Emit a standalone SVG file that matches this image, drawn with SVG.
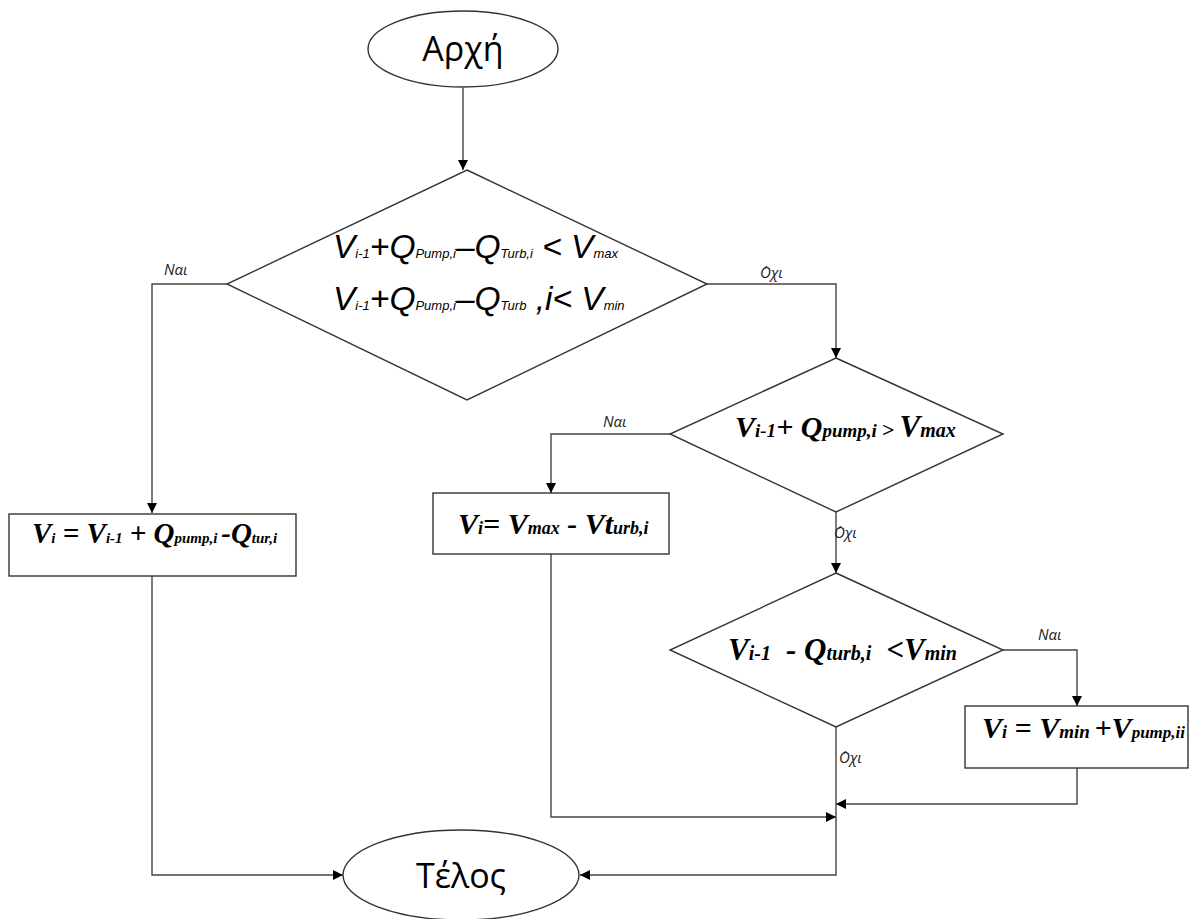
<svg xmlns="http://www.w3.org/2000/svg" width="1193" height="919" viewBox="0 0 1193 919">
<style>
.sh{fill:#fff;stroke:#333;stroke-width:1.4}
.ln{fill:none;stroke:#444;stroke-width:1.4}
.cal{font-family:"Liberation Sans","Open Sans",sans-serif;font-style:italic;fill:#000}
.tnr{font-family:"Liberation Serif","DejaVu Serif",serif;font-style:italic;font-weight:bold;fill:#000}
.lbl{font-family:"Open Sans","Liberation Sans",sans-serif;font-style:italic;font-size:15px;fill:#222}
.term{font-family:"Open Sans","Liberation Sans",sans-serif;font-size:34px;fill:#000}
</style>
<defs>
<marker id="ar" viewBox="0 0 10 10" refX="10" refY="5" markerWidth="10" markerHeight="10" markerUnits="userSpaceOnUse" orient="auto">
<path d="M0,0 L10,5 L0,10 z" fill="#000"/>
</marker>
</defs>
<g id="connectors">
<path class="ln" d="M463,88 V170" marker-end="url(#ar)"/>
<path class="ln" d="M227,284 H152 V513" marker-end="url(#ar)"/>
<path class="ln" d="M152,576 V875 H343" marker-end="url(#ar)"/>
<path class="ln" d="M707,284 H836 V358" marker-end="url(#ar)"/>
<path class="ln" d="M670,434 H551 V493" marker-end="url(#ar)"/>
<path class="ln" d="M551,554 V817 H836" marker-end="url(#ar)"/>
<path class="ln" d="M836,512 V573" marker-end="url(#ar)"/>
<path class="ln" d="M1003,650 H1077 V706" marker-end="url(#ar)"/>
<path class="ln" d="M1077,768 V804 H836" marker-end="url(#ar)"/>
<path class="ln" d="M836,727 V875 H580" marker-end="url(#ar)"/>
<text class="lbl" x="164" y="275">Ναι</text>
<text class="lbl" x="760" y="278">΄Οχι</text>
<text class="lbl" x="603" y="427">Ναι</text>
<text class="lbl" x="834" y="538">΄Οχι</text>
<text class="lbl" x="1038" y="640">Ναι</text>
<text class="lbl" x="839" y="763">΄Οχι</text>
</g>
<g id="start">
<ellipse class="sh" cx="463" cy="49" rx="95" ry="38"/>
<text class="term" x="463" y="61" text-anchor="middle">Αρχή</text>
</g>
<g id="cond1">
<polygon class="sh" points="467,170 707,284 467,400 227,284"/>
<text class="cal" x="333" y="258"><tspan font-size="33.5">V</tspan><tspan font-size="13">i-1</tspan><tspan font-size="33.5">+Q</tspan><tspan font-size="13">Pump,i</tspan><tspan font-size="33.5">–Q</tspan><tspan font-size="13">Turb,i</tspan><tspan font-size="33.5"> &lt; V</tspan><tspan font-size="13">max</tspan></text>
<text class="cal" x="333" y="310"><tspan font-size="33.5">V</tspan><tspan font-size="13">i-1</tspan><tspan font-size="33.5">+Q</tspan><tspan font-size="13">Pump,i</tspan><tspan font-size="33.5">–Q</tspan><tspan font-size="13">Turb</tspan><tspan font-size="33.5"> ,i&lt; V</tspan><tspan font-size="13">min</tspan></text>
</g>
<g id="box1">
<rect class="sh" x="9" y="514" width="287" height="62"/>
<text class="tnr" x="32" y="543" xml:space="preserve"><tspan font-size="29">V</tspan><tspan font-size="15">i</tspan><tspan font-size="29"> = V</tspan><tspan font-size="15">i-1</tspan><tspan font-size="29"> + Q</tspan><tspan font-size="15">pump,i </tspan><tspan font-size="29">-Q</tspan><tspan font-size="15">tur,i</tspan></text>
</g>
<g id="cond2">
<polygon class="sh" points="836,358 1003,434 836,512 670,434"/>
<text class="tnr" x="735" y="437" xml:space="preserve"><tspan font-size="30">V</tspan><tspan font-size="19">i-1</tspan><tspan font-size="30">+ Q</tspan><tspan font-size="19">pump,i </tspan><tspan font-size="22">&gt; </tspan><tspan font-size="31">V</tspan><tspan font-size="20">max</tspan></text>
</g>
<g id="box2">
<rect class="sh" x="433" y="493" width="236" height="61"/>
<text class="tnr" x="458" y="534" xml:space="preserve"><tspan font-size="30">V</tspan><tspan font-size="18">i</tspan><tspan font-size="30">= V</tspan><tspan font-size="18">max</tspan><tspan font-size="30"> - Vt</tspan><tspan font-size="18">urb,i</tspan></text>
</g>
<g id="cond3">
<polygon class="sh" points="836,573 1003,650 836,727 670,650"/>
<text class="tnr" x="728" y="660" xml:space="preserve"><tspan font-size="31">V</tspan><tspan font-size="20">i-1   </tspan><tspan font-size="31">- Q</tspan><tspan font-size="20">turb,i   </tspan><tspan font-size="31">&lt;V</tspan><tspan font-size="20">min</tspan></text>
</g>
<g id="box3">
<rect class="sh" x="965" y="706" width="223" height="62"/>
<text class="tnr" x="982" y="738" xml:space="preserve"><tspan font-size="30">V</tspan><tspan font-size="18">i</tspan><tspan font-size="30"> = V</tspan><tspan font-size="19">min </tspan><tspan font-size="30">+V</tspan><tspan font-size="17">pump,ii</tspan></text>
</g>
<g id="end">
<ellipse class="sh" cx="461" cy="875" rx="118" ry="45"/>
<text class="term" x="461" y="888" text-anchor="middle">Τέλος</text>
</g>
</svg>
